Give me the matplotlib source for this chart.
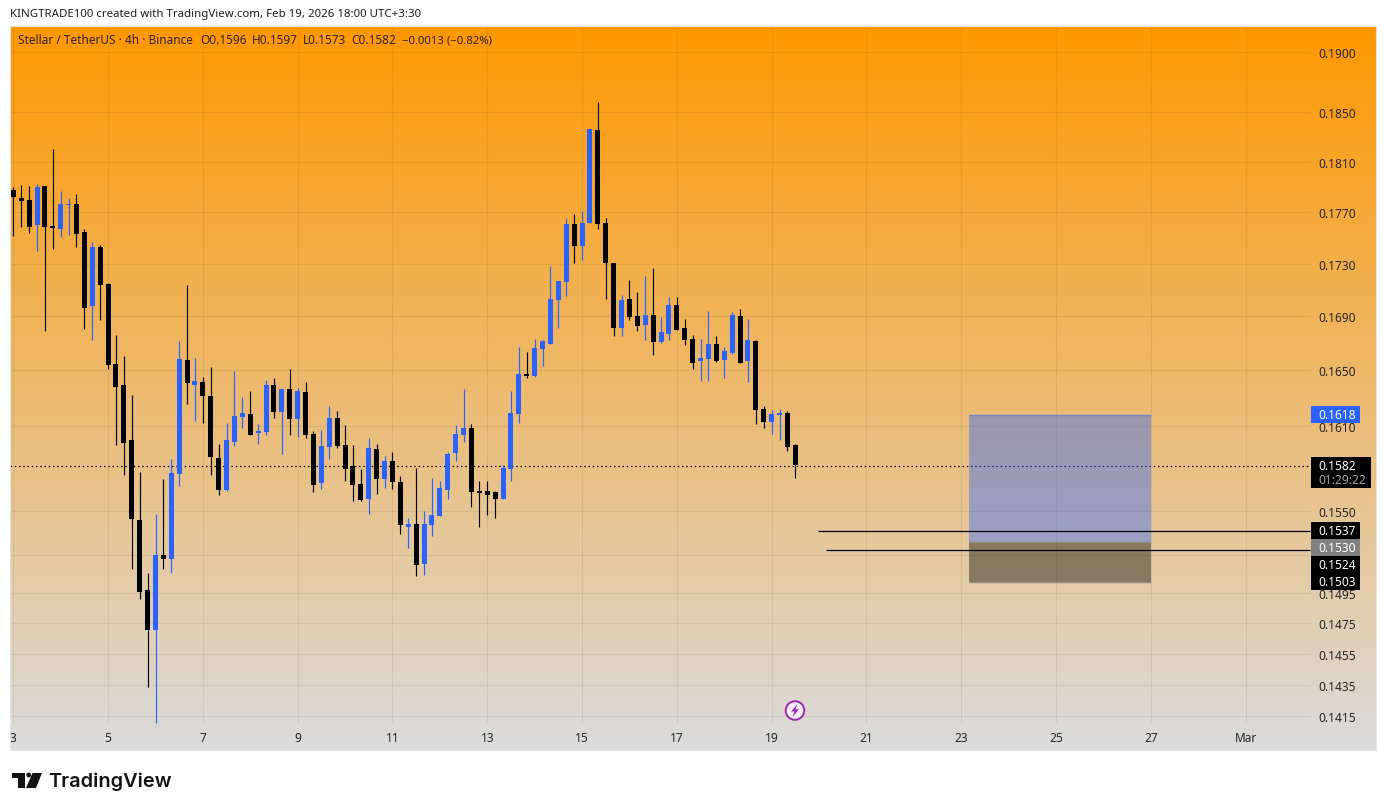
import numpy as np
import matplotlib
matplotlib.use("Agg")
import matplotlib.pyplot as plt
from matplotlib.colors import LinearSegmentedColormap
from matplotlib.patches import Rectangle, Circle, Polygon
from matplotlib.ticker import NullLocator, FixedLocator, FixedFormatter
from matplotlib.transforms import Affine2D

# ---- data: 4h candles, one row per bar: high, body top, body bottom, low (x 1e-5), direction
highs = [17896,17912,17904,17920,17904,18199,17864,17808,17840,17565,17464,17440,17149,16758,16603,16317,15770,15078,15478,15721,
         15861,16714,17134,16588,16449,16522,15967,16117,16493,16303,16347,16110,16427,16442,16361,16508,16369,16412,16060,16067,
         16238,16202,16102,15960,15791,16010,15967,15882,15910,15742,15451,15798,15499,15728,15707,15910,16102,16361,16110,15707,
         15707,15637,15819,16347,16669,16632,16729,16721,17279,17165,17651,17683,17706,18363,18583,17651,17302,17058,17172,17080,
         17203,17264,16893,17042,17042,16878,16758,16729,16937,16751,16669,16930,16952,16878,16721,16238,16209,16217,16202,15970]
tops = [17872,17808,17792,17896,17904,17589,17761,17761,17761,17542,17425,17425,17142,16544,16391,16000,15437,14964,15199,15199,
        15763,16581,16573,16420,16412,16310,15868,16000,16167,16188,16181,16060,16391,16391,16361,16361,16347,16339,16038,15952,
        16152,16152,15960,15812,15686,15938,15931,15847,15847,15700,15410,15410,15410,15472,15658,15896,16038,16081,16081,15637,
        15637,15630,15798,16188,16471,16471,16661,16714,17027,17165,17605,17605,17612,18363,18354,17612,17302,17020,17027,16900,
        16908,16908,16781,16982,16982,16811,16729,16588,16691,16691,16639,16908,16900,16721,16714,16217,16181,16188,16188,15960]
bottoms = [17816,17784,17581,17597,17581,17573,17565,17753,17526,16960,16975,17134,16537,16376,15974,15444,14951,14701,14701,15172,
           15172,15756,16405,16391,16310,15875,15644,15644,15981,16160,16031,16045,16052,16195,16195,16145,16145,16031,15679,15693,
           15945,15952,15791,15679,15574,15581,15721,15721,15700,15403,15389,15132,15139,15403,15465,15644,15903,16031,15630,15623,
           15609,15581,15581,15791,16181,16456,16456,16654,16691,17020,17157,17432,17432,17612,17605,17302,16811,16811,16893,16826,
           16833,16706,16706,16766,16796,16721,16552,16566,16581,16566,16573,16625,16552,16566,16209,16124,16124,16174,15945,15820]
lows = [17511,17581,17534,17394,16788,17409,17503,17518,17425,16803,16721,16870,16508,15960,15749,15105,14904,14334,14106,15105,
        15078,15672,16252,16131,16117,15749,15609,15637,15952,16081,16031,15967,16031,16152,15896,16031,16017,16010,15630,15651,
        15861,15938,15707,15567,15567,15478,15616,15658,15651,15342,15246,15058,15065,15328,15465,15581,15847,15981,15526,15389,
        15472,15451,15581,15707,16117,16442,16449,16530,16691,16811,17050,17302,17325,17612,17565,17027,16751,16751,16870,16788,
        16721,16610,16699,16721,16796,16684,16508,16420,16420,16559,16442,16617,16552,16412,16110,16081,16038,16000,15917,15730]
ups = [3,6,7,10,18,20,21,23,27,28,29,31,32,34,36,39,40,45,47,50,52,53,54,55,56,57,62,63,64,66,67,68,69,70,72,73,77,80,82,83,87,88,90,91,93,96,97]

x_tick_bars = [0,12,24,36,48,60,72,84,96,108,120,132,144,156]
x_tick_labels = ["3","5","7","9","11","13","15","17","19","21","23","25","27","Mar"]
y_ticks = [0.1900,0.1850,0.1810,0.1770,0.1730,0.1690,0.1650,0.1610,0.1550,0.1495,0.1475,0.1455,0.1435,0.1415]
y_extra_grid = [0.1520]

last_close = 0.1582
target_price, entry_price, stop_price = 0.1618, 0.1530, 0.1503
level_a, level_b = 0.1537, 0.1524
# drawn heights (the tags above are the printed values)
target_drawn, entry_drawn, stop_drawn = 0.16176, 0.15290, 0.15020
level_a_drawn, level_b_drawn = 0.15362, 0.15232
close_drawn = 0.15815
box_bars = (121.0, 144.0)
level_a_start, level_b_start = 101.9, 102.9

BLUE = "#2962FF"
W, H = 1386, 812
fig = plt.figure(figsize=(W/100, H/100), dpi=100, facecolor="white")
plt.rcParams["font.family"] = ["Noto Sans", "DejaVu Sans"]
px = Affine2D().scale(1/W, -1/H).translate(0, 1) + fig.transFigure

L, R, T, B = 10, 1376, 27, 751
pos = [L/W, 1-B/H, (R-L)/W, (B-T)/H]

# gradient pane
bg = fig.add_axes(pos, zorder=0)
cm = LinearSegmentedColormap.from_list("g", ["#FF9800", "#DBDBDB"])
bg.imshow(np.linspace(0, 1, 400).reshape(-1, 1), aspect="auto", cmap=cm, vmin=0, vmax=1)
bg.axis("off")

ax = fig.add_axes(pos, zorder=1)
ax.patch.set_alpha(0)
ax.set_yscale("log")
bar_px = 7.90
ax.set_xlim((L-13.3)/bar_px, (R-13.3)/bar_px)
ax.set_ylim(0.13941, 0.19224)
for s in ax.spines.values():
    s.set_color("#E3E3E3"); s.set_linewidth(0.8)

ax.yaxis.set_minor_locator(NullLocator())
ax.yaxis.set_major_locator(FixedLocator(y_ticks))
ax.yaxis.set_major_formatter(FixedFormatter([f"{v:.4f}" for v in y_ticks]))
ax.yaxis.tick_right()
ax.tick_params(axis="y", which="both", length=0, pad=-41.5, labelsize=8.6, labelcolor="#262626")
ax.set_xticks(x_tick_bars, x_tick_labels)
ax.tick_params(axis="x", length=0, pad=-13.5, labelsize=8.6, labelcolor="#262626")

grid_c = (0.35, 0.30, 0.25, 0.10)
gx = (1310-L)/(R-L)
gy = (B-723)/(B-T)
ax.hlines(y_ticks+y_extra_grid, 0, gx, transform=ax.get_yaxis_transform(), color=grid_c, lw=0.8, zorder=1)
ax.vlines(x_tick_bars, gy, 1, transform=ax.get_xaxis_transform(), color=grid_c, lw=0.8, zorder=1)

# candles
n = len(highs)
xs = np.arange(n)
hi, tp, bt, lo = [np.array(a)/1e5 for a in (highs, tops, bottoms, lows)]
cols = [BLUE if i in ups else "black" for i in range(n)]
ax.vlines(xs, lo, hi, colors=cols, lw=0.85, zorder=3)
ax.bar(xs, tp-bt, bottom=bt, width=5/bar_px, color=cols, linewidth=0, zorder=4)

# last price dotted line
ax.hlines(close_drawn, 0, gx, transform=ax.get_yaxis_transform(), color="black", lw=0.9,
          linestyle=(0, (1.2, 2.2)), zorder=2)

# position tool
bx0, bx1 = box_bars
ax.add_patch(Rectangle((bx0, entry_drawn), bx1-bx0, target_drawn-entry_drawn, fc=BLUE, alpha=0.40, lw=0, zorder=2.5))
ax.add_patch(Rectangle((bx0, stop_drawn), bx1-bx0, entry_drawn-stop_drawn, fc="black", alpha=0.40, lw=0, zorder=2.5))
ax.hlines(target_drawn, bx0, bx1, color="#6F86C8", lw=1.0, zorder=2.6)
ax.hlines(stop_drawn, bx0, bx1, color="#8F8F80", lw=1.0, zorder=2.6)
ax.hlines(entry_drawn, bx0, bx1, color="#8F8F80", lw=1.0, zorder=2.6)

# horizontal levels
right_bar = (1310-13.3)/bar_px
ax.hlines(level_a_drawn, level_a_start, right_bar, color="black", lw=0.9, zorder=3)
ax.hlines(level_b_drawn, level_b_start, right_bar, color="black", lw=0.9, zorder=3)

# overlay for badges, texts, logo
def badge(x0, y0, x1, y1, color):
    fig.add_artist(Rectangle((x0, y0), x1-x0, y1-y0, transform=px, fc=color, ec="none", zorder=6))

def ptext(x, y, s, **kw):
    kw.setdefault("va", "center"); kw.setdefault("ha", "left")
    fig.text(x, y, s, transform=px, **kw)

lab = dict(fontsize=8.6, color="white", zorder=7, fontweight="bold")
for y0, y1, c, s in [(407, 424, BLUE, f"{target_price:.4f}"),
                     (523, 540, "black", f"{level_a:.4f}"),
                     (540, 557, "#808080", f"{entry_price:.4f}"),
                     (557, 574, "black", f"{level_b:.4f}"),
                     (574, 591, "black", f"{stop_price:.4f}")]:
    badge(1311, y0, 1360, y1, c)
    ptext(1318.5, (y0+y1)/2, s, **lab)
badge(1311, 458, 1371, 489, "black")
ptext(1318.5, 466.5, f"{last_close:.4f}", **lab)
ptext(1318.5, 481, "01:29:22", fontsize=8.6, color="#A6A6A6", zorder=7, fontweight="medium")

ptext(10, 14.5, "KINGTRADE100 created with TradingView.com, Feb 19, 2026 18:00 UTC+3:30", fontsize=8.25, color="#1E1E1E", zorder=7)
ptext(18, 41, "Stellar / TetherUS · 4h · Binance", fontsize=8.5, color="#2E2420", zorder=7)
ptext(200, 41, "O0.1596", fontsize=8.5, color="#2E2420", zorder=7)
ptext(251.5, 41, "H0.1597", fontsize=8.5, color="#2E2420", zorder=7)
ptext(302.5, 41, "L0.1573", fontsize=8.5, color="#2E2420", zorder=7)
ptext(351.5, 41, "C0.1582", fontsize=8.5, color="#2E2420", zorder=7)
ptext(402, 41, "−0.0013 (−0.82%)", fontsize=8.15, color="#2E2420", zorder=7)

# lightning marker
fig.add_artist(Circle((795, 711.5), 9.3, transform=px, fc="#F4EEF2", ec="#9C27B0", lw=1.4, zorder=6))
fig.add_artist(Polygon([(797.5, 705), (791, 712.5), (794.6, 712.5), (792.5, 718), (799, 710.3), (795.4, 710.3)],
                       transform=px, fc="#9C27B0", ec="none", zorder=7))

# TradingView logo
logo = "#131313"
fig.add_artist(Polygon([(12, 774), (25, 774), (25, 789), (18, 789), (18, 779), (12, 779)], transform=px, fc=logo, ec="none", zorder=6))
fig.add_artist(Circle((28.7, 776), 2.4, transform=px, fc=logo, ec="none", zorder=6))
fig.add_artist(Polygon([(32.5, 774), (42, 774), (36, 789), (26, 789)], transform=px, fc=logo, ec="none", zorder=6))
ptext(48, 782, "TradingView", fontsize=14.4, color=logo, fontfamily="Inter", fontweight="semibold", zorder=7)

fig.savefig("out.png", dpi=100)
